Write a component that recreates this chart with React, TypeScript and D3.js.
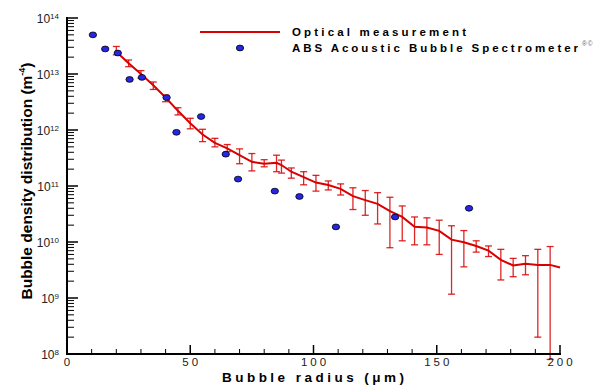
import * as d3 from 'd3';

// optical measurement (red line + error bars)
const optX = [20, 25, 30, 35, 40, 45, 50, 55, 60, 65, 70, 75, 80, 85, 87, 91, 96, 101, 106, 111, 116, 121, 126, 131, 136, 141, 146, 151, 156, 161, 166, 171, 176, 181, 186, 191, 196, 200];
const optY = [2.5e13, 1.55e13, 1.0e13, 6.3e12, 3.8e12, 2.2e12, 1.32e12, 8.3e11, 5.9e11, 4.7e11, 3.55e11, 2.7e11, 2.5e11, 2.6e11, 2.37e11, 1.8e11, 1.44e11, 1.15e11, 1.04e11, 8.9e10, 6.6e10, 5.6e10, 4.8e10, 3.55e10, 2.8e10, 1.87e10, 1.82e10, 1.58e10, 1.1e10, 9.9e9, 8.5e9, 7.0e9, 4.8e9, 3.8e9, 4.1e9, 3.9e9, 3.9e9, 3.5e9];
const optHi = [3.1e13, 1.78e13, 1.15e13, 7.2e12, 4.2e12, 2.5e12, 1.62e12, 1.03e12, 7.1e11, 5.5e11, 4.6e11, 3.8e11, 2.95e11, 3.55e11, 2.9e11, 2.1e11, 1.8e11, 1.55e11, 1.23e11, 1.09e11, 9.3e10, 8.3e10, 7.6e10, 6.3e10, 4.4e10, 2.8e10, 2.7e10, 2.45e10, 1.95e10, 1.6e10, 1.05e10, 8.5e9, 7.4e9, 5.1e9, 5.7e9, 7.4e9, 8.3e9, null];
const optLo = [2.2e13, 1.35e13, 8.4e12, 5.3e12, 3.2e12, 1.86e12, 1.05e12, 6.2e11, 5.0e11, 4.1e11, 2.5e11, 1.86e11, 2.2e11, 1.8e11, 1.7e11, 1.38e11, 1.05e11, 8.1e10, 8.5e10, 6.9e10, 3.8e10, 3.0e10, 2.1e10, 7.9e9, 1.05e10, 8.9e9, 8.9e9, 6.0e9, 1.17e9, 3.6e9, 6.6e9, 5.5e9, 2.1e9, 2.4e9, 2.6e9, 2.0e8, 8e7, null];

// ABS acoustic bubble spectrometer (blue dots)
const absX = [10.5, 15.5, 20.6, 25.4, 30.4, 40.4, 44.4, 54.4, 64.4, 69.4, 84.3, 94.3, 109.1, 133.1, 163.1];
const absY = [5.0e13, 2.8e13, 2.37e13, 8.0e12, 8.7e12, 3.8e12, 9.1e11, 1.74e12, 3.7e11, 1.33e11, 8.1e10, 6.5e10, 1.86e10, 2.8e10, 4.0e10];

const xTicks = [0, 50, 100, 150, 200];
const yExps = [8, 9, 10, 11, 12, 13, 14];

const W = 606;
const H = 385;
const font = '"Liberation Sans", Arial, sans-serif';

const x = d3.scaleLinear().domain([0, 200]).range([67, 560]);
const y = d3.scaleLog().domain([1e8, 1e14]).range([354, 18]);

const red = '#d80000';
const blue = '#2626e6';

export default function App() {
    const line = d3.line<number>()
        .x((d, i) => x(optX[i]))
        .y(d => y(d));

    const minorX = d3.range(10, 200, 10).filter(v => v % 50 !== 0);
    const minorY: number[] = [];
    for (let e = 8; e < 14; e++) {
        for (let m = 2; m <= 9; m++) minorY.push(m * Math.pow(10, e));
    }

    return (
        <svg width={W} height={H} style={{ position: 'absolute', left: 0, top: 0, background: '#fff' }}
             fontFamily={font}>
            {/* error bars */}
            <g stroke={red} strokeWidth={1.3} strokeOpacity={0.85}>
                {optX.map((xv, i) => {
                    if (optHi[i] == null) return null;
                    const cx = x(xv);
                    const y1 = y(optHi[i] as number);
                    const y2 = y(optLo[i] as number);
                    return (
                        <g key={i}>
                            <line x1={cx} x2={cx} y1={y1} y2={y2} />
                            <line x1={cx - 3.5} x2={cx + 3.5} y1={y1} y2={y1} />
                            <line x1={cx - 3.5} x2={cx + 3.5} y1={y2} y2={y2} />
                        </g>
                    );
                })}
            </g>
            <path d={line(optY) || ''} fill="none" stroke={red} strokeWidth={2} />

            {/* ABS points */}
            {absX.map((xv, i) => (
                <ellipse key={i} cx={x(xv)} cy={y(absY[i])} rx={3.7} ry={2.9}
                         fill={blue} stroke="#000" strokeWidth={0.8} />
            ))}

            {/* axes */}
            <g stroke="#000">
                <line x1={67} x2={67} y1={17} y2={355} strokeWidth={2} />
                <line x1={66} x2={561} y1={354} y2={354} strokeWidth={2} />
                {yExps.map(e => (
                    <line key={e} x1={67} x2={78} y1={y(Math.pow(10, e))} y2={y(Math.pow(10, e))} strokeWidth={1.5} />
                ))}
                {minorY.map((v, i) => (
                    <line key={i} x1={67} x2={74} y1={y(v)} y2={y(v)} strokeWidth={1} />
                ))}
                {xTicks.map(t => (
                    <line key={t} x1={x(t)} x2={x(t)} y1={354} y2={345} strokeWidth={1.5} />
                ))}
                {minorX.map(t => (
                    <line key={t} x1={x(t)} x2={x(t)} y1={354} y2={349} strokeWidth={1} />
                ))}
            </g>

            {/* tick labels */}
            {yExps.map(e => (
                <text key={e} x={59} y={y(Math.pow(10, e)) + 4.5} textAnchor="end" fontSize={12} fill="#222">
                    10<tspan fontSize={8} dy={-3.5}>{e}</tspan>
                </text>
            ))}
            {xTicks.map(t => (
                <text key={t} x={x(t) + 1.5} y={366} textAnchor="middle" fontSize={11.5} letterSpacing={3} fill="#222">
                    {t}
                </text>
            ))}

            {/* axis titles */}
            <text x={222} y={382} fontSize={13.5} fontWeight="bold" textLength={182} lengthAdjust="spacing">
                Bubble radius (μm)
            </text>
            <text transform="translate(32,181) rotate(-90)" textAnchor="middle" fontSize={15.5} fontWeight="bold">
                Bubble density distribution (m<tspan fontSize={9} dy={-7}>-4</tspan><tspan dy={7}>)</tspan>
            </text>

            {/* legend */}
            <line x1={200} x2={280} y1={32} y2={32} stroke={red} strokeWidth={2} />
            <ellipse cx={240} cy={48} rx={3.7} ry={2.9} fill={blue} stroke="#000" strokeWidth={0.8} />
            <text x={292} y={35.5} fontSize={11.5} fontWeight="bold" textLength={174} lengthAdjust="spacing">
                Optical measurement
            </text>
            <text x={292} y={52} fontSize={11.5} fontWeight="bold" textLength={286} lengthAdjust="spacing">
                ABS Acoustic Bubble Spectrometer
            </text>
            <text x={582} y={46} fontSize={6.5} fill="#666" letterSpacing={1}>®©</text>
        </svg>
    );
}
